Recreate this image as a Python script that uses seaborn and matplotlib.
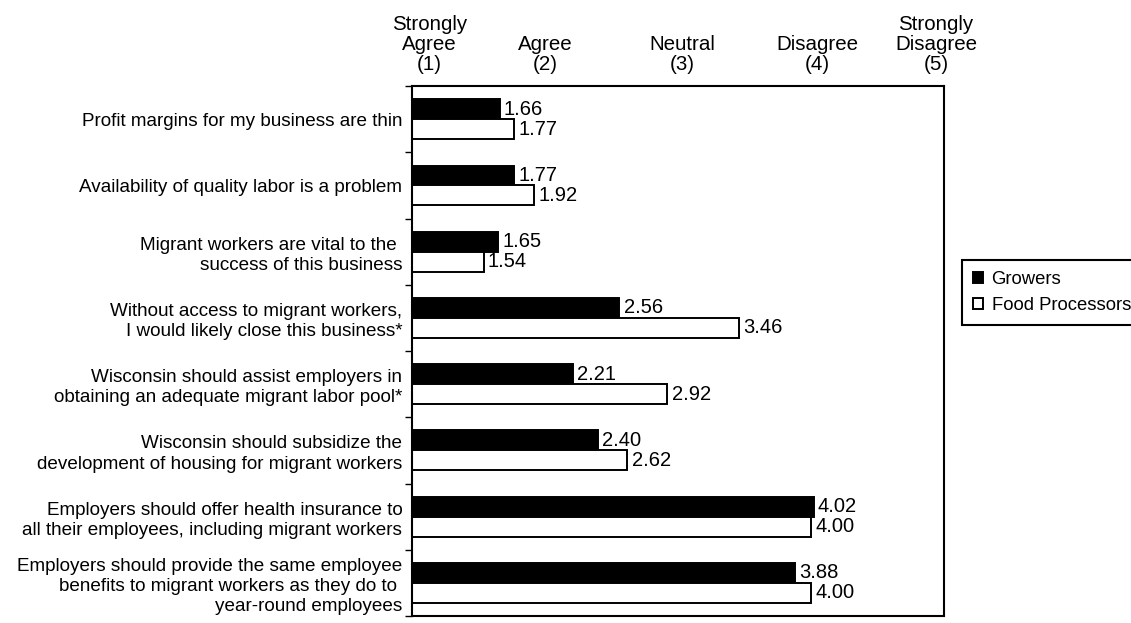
import matplotlib
matplotlib.use("Agg")
import matplotlib.pyplot as plt
import seaborn as sns
import pandas as pd
import numpy as np
from matplotlib.ticker import FixedLocator

# Survey statements (y-axis categories)
statements = [
    "Profit margins for my business are thin",
    "Availability of quality labor is a problem",
    "Migrant workers are vital to the \nsuccess of this business",
    "Without access to migrant workers,\nI would likely close this business*",
    "Wisconsin should assist employers in\nobtaining an adequate migrant labor pool*",
    "Wisconsin should subsidize the\ndevelopment of housing for migrant workers",
    "Employers should offer health insurance to\nall their employees, including migrant workers",
    "Employers should provide the same employee\nbenefits to migrant workers as they do to \nyear-round employees",
]

# Mean agreement scores per group
growers = [1.66, 1.77, 1.65, 2.56, 2.21, 2.40, 4.02, 3.88]
food_processors = [1.77, 1.92, 1.54, 3.46, 2.92, 2.62, 4.00, 4.00]

groups = ["Growers", "Food Processors"]
scale_labels = ["Strongly\nAgree\n(1)", "Agree\n(2)", "Neutral\n(3)",
                "Disagree\n(4)", "Strongly\nDisagree\n(5)"]
scale_label_x = [1.13, 2.0, 3.03, 4.05, 4.94]

df = pd.DataFrame({
    "statement": statements * 2,
    "score": growers + food_processors,
    "group": [groups[0]] * len(statements) + [groups[1]] * len(statements),
})

sns.set_style("white")
plt.rcParams["font.family"] = ["Liberation Sans", "DejaVu Sans"]
plt.rcParams["text.color"] = "black"
plt.rcParams["ytick.color"] = "black"
plt.rcParams["xtick.color"] = "black"
FS = 13.6

fig = plt.figure(figsize=(11.31, 6.23), dpi=100)
ax = fig.add_axes([412 / 1131, 1 - 616 / 623, (944 - 412) / 1131, (616 - 86) / 623])

sns.barplot(
    data=df, y="statement", x="score", hue="group", orient="h",
    order=statements, hue_order=groups,
    palette={"Growers": "black", "Food Processors": "white"},
    edgecolor="black", linewidth=1.4, width=0.6, gap=0,
    errorbar=None, ax=ax, legend=True,
)

ax.set_xlim(1, 5)
ax.set_ylim(len(statements) - 0.5, -0.5)
ax.set_xlabel("")
ax.set_ylabel("")
ax.set_xticks([])

for c in ax.containers:
    ax.bar_label(c, fmt="%.2f", padding=3, fontsize=14.5, color="black")

# statement labels at category centres, tick marks at category boundaries
ax.tick_params(axis="y", which="major", length=0, pad=7, labelsize=FS, labelcolor="black")
ax.yaxis.set_minor_locator(FixedLocator(np.arange(-0.5, len(statements), 1.0)))
ax.tick_params(axis="y", which="minor", left=True, length=5, width=1, color="black")
for lbl in ax.get_yticklabels():
    lbl.set_multialignment("right")
    lbl.set_linespacing(1.25)

for s in ax.spines.values():
    s.set_visible(True)
    s.set_color("black")
    s.set_linewidth(1.5)

# response scale header above the plot
for xv, txt in zip(scale_label_x, scale_labels):
    ax.text(xv, 1.0 + 12 / 530, txt, transform=ax.get_xaxis_transform(),
            ha="center", va="bottom", fontsize=14.8, linespacing=1.08,
            multialignment="center", color="black", clip_on=False)

handles, labels = ax.get_legend_handles_labels()
ax.legend_.remove()
leg = fig.legend(
    handles, labels, loc="upper left",
    bbox_to_anchor=(962 / 1131, 1 - 260 / 623), bbox_transform=fig.transFigure,
    borderaxespad=0, fancybox=False, frameon=True, edgecolor="black",
    framealpha=1, fontsize=13.3, handlelength=0.55, handleheight=0.55,
    handletextpad=0.45, borderpad=0.6, labelspacing=0.5, labelcolor="black",
)
leg.get_frame().set_linewidth(1.5)

fig.savefig("out.png", dpi=100, facecolor="white")
